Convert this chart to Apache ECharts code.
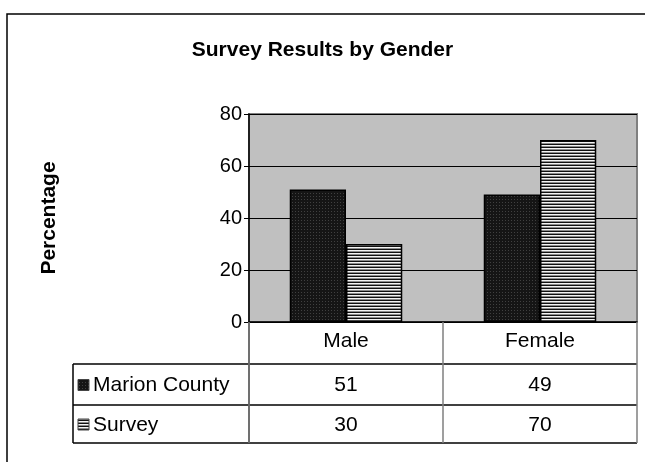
<!DOCTYPE html>
<html>
<head>
<meta charset="utf-8">
<script src="https://cdn.jsdelivr.net/npm/echarts@6/dist/echarts.min.js"></script>
<style>html,body{margin:0;padding:0;background:#fff}#main{width:645px;height:462px}</style>
</head>
<body>
<div id="main"></div>
<script>
// ==================== DATA ====================
const categories=['Male','Female'];
const seriesNames=['Marion County','Survey'];
const marionCounty=[51,49];
const survey=[30,70];
const seriesValues=[marionCounty,survey];

// ==================== LAYOUT ====================
const FONT='Liberation Sans, Arial, sans-serif';
const G={left:249,right:8,top:114,bottom:140};
const W=645, H=462;
const axisY=H-G.bottom;              // y of the category axis
const tableLeft=73, keyX=78, nameX=93;
const rowLines=[364,405,443];        // bottoms of header row, Marion row, Survey row

// fill patterns like the old Excel hatch fills
function makePattern(kind){
  const c=document.createElement('canvas');
  c.width=3; c.height=3;
  const g=c.getContext('2d');
  if(kind==='dots'){
    g.fillStyle='#151515'; g.fillRect(0,0,3,3);
    g.fillStyle='#404040'; g.fillRect(1,1,1,1);
  } else {
    g.fillStyle='#f4f4f4'; g.fillRect(0,0,3,3);
    g.fillStyle='#111111'; g.fillRect(0,0,3,1);
    g.fillStyle='#8c8c8c'; g.fillRect(0,2,3,1);
  }
  return {image:c,repeat:'repeat'};
}
const fills=[makePattern('dots'),makePattern('stripes')];

const chart=echarts.init(document.getElementById('main'));

const series=seriesNames.map((name,i)=>({
  name,type:'bar',data:seriesValues[i],
  barGap:'0%',barCategoryGap:'42%',
  itemStyle:{color:fills[i],borderColor:'#000',borderWidth:1.5},
  emphasis:{disabled:true}
}));

chart.setOption({
  backgroundColor:'#fff',
  animation:false,
  title:{text:'Survey Results by Gender',left:'center',top:35,
    textStyle:{fontFamily:FONT,fontSize:21,fontWeight:'bold',color:'#000'}},
  grid:{left:G.left,right:G.right,top:G.top,bottom:G.bottom,show:true,
    backgroundColor:'#c0c0c0',borderColor:'#808080',borderWidth:2},
  xAxis:{type:'category',data:categories,
    axisLine:{lineStyle:{color:'#000',width:1.5}},
    axisTick:{show:true,alignWithLabel:false,length:rowLines[2]-axisY,lineStyle:{color:'#808080',width:1.5}},
    axisLabel:{color:'#000',fontFamily:FONT,fontSize:21,margin:9}},
  yAxis:{type:'value',min:0,max:80,interval:20,
    name:'Percentage',nameLocation:'middle',nameRotate:90,nameGap:189,
    nameTextStyle:{fontFamily:FONT,fontSize:21,fontWeight:'bold',color:'#000'},
    axisLine:{show:true,lineStyle:{color:'#000',width:1.5}},
    axisTick:{show:true,length:5,lineStyle:{color:'#000'}},
    axisLabel:{color:'#000',fontFamily:FONT,fontSize:20,margin:7},
    splitLine:{lineStyle:{color:'#000',width:1}}},
  series
});

// ==================== DATA TABLE ====================
// columns follow the category axis, rows follow the series
const right=W-G.right;
const gfx=[];
gfx.push({type:'rect',shape:{x:7,y:14,width:800,height:600},style:{fill:'none',stroke:'#000',lineWidth:1.5},silent:true});
rowLines.forEach(y=>gfx.push({type:'line',shape:{x1:tableLeft,y1:y,x2:right,y2:y},style:{stroke:'#000',lineWidth:1.5},silent:true}));
gfx.push({type:'line',shape:{x1:tableLeft,y1:rowLines[0],x2:tableLeft,y2:rowLines[2]},style:{stroke:'#000',lineWidth:1.5},silent:true});
gfx.push({type:'line',shape:{x1:G.left,y1:axisY,x2:G.left,y2:rowLines[2]},style:{stroke:'#000',lineWidth:1.5},silent:true});
seriesNames.forEach((name,i)=>{
  const yc=(rowLines[i]+rowLines[i+1])/2;
  gfx.push({type:'rect',shape:{x:keyX,y:yc-5,width:11,height:11},style:{fill:fills[i],stroke:'#444',lineWidth:1},silent:true});
  gfx.push({type:'text',x:nameX,y:yc+1,style:{text:name,font:'21px '+FONT,fill:'#000',align:'left',verticalAlign:'middle'},silent:true});
  categories.forEach((cat,j)=>{
    const xc=chart.convertToPixel({xAxisIndex:0},cat);
    gfx.push({type:'text',x:xc,y:yc+1,style:{text:String(seriesValues[i][j]),font:'21px '+FONT,fill:'#000',align:'center',verticalAlign:'middle'},silent:true});
  });
});
chart.setOption({graphic:gfx});
</script>
</body>
</html>
